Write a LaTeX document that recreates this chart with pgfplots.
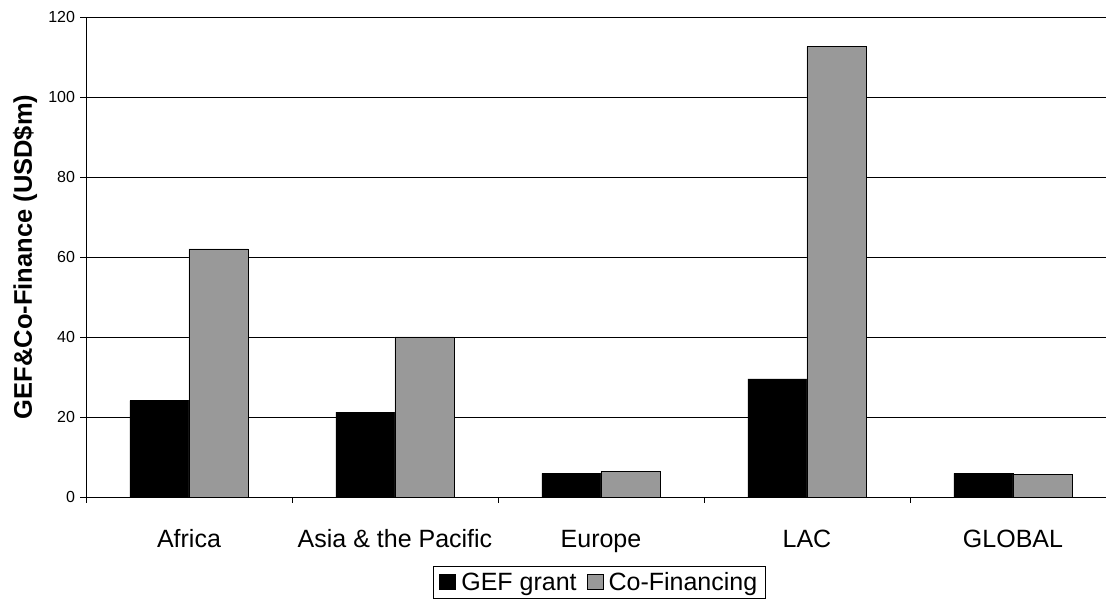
\documentclass[border=0pt]{standalone}
\usepackage{pgfplots}
\pgfplotsset{compat=1.18}
\usepackage{fontspec}
\setmainfont{Liberation Sans}
\definecolor{cofin}{RGB}{153,153,153}
\pgfplotsset{sqleg/.style={legend image code/.code={\draw[##1, draw=black] (0pt,-7.5pt) rectangle (16pt,7.5pt);}}}
\begin{document}
\begin{tikzpicture}[x=1pt,y=1pt]
\path[use as bounding box] (0,0) rectangle (1106,599);
\clip (0,0) rectangle (1106,599);
\begin{axis}[
  at={(86pt,102pt)}, anchor=south west,
  scale only axis, width=1030pt, height=480pt,
  xmin=-0.5, xmax=4.5, ymin=0, ymax=120,
  ytick={0,20,...,120},
  ymajorgrids, major grid style={black, line width=0.9pt},
  axis line style={black, line width=0.9pt},
  xtick={0,...,4},
  xticklabels={Africa, Asia \& the Pacific, Europe, LAC, GLOBAL},
  minor xtick={-0.5,0.5,...,4.5},
  major x tick style={draw=none},
  minor x tick style={black, line width=0.9pt},
  major y tick style={black, line width=0.9pt},
  tick align=outside, major tick length=6pt, minor tick length=6pt,
  xtick pos=left, ytick pos=left,
  /pgf/number format/assume math mode=true,
  yticklabel style={font=\fontsize{16}{16}\selectfont, xshift=-1.5pt},
  xticklabel style={font=\fontsize{25}{25}\selectfont, anchor=base, yshift=-45pt},
  ylabel={GEF\&Co-Finance (USD\$m)},
  ylabel style={font=\bfseries\fontsize{25.5}{25.5}\selectfont, at={(axis description cs:-0.0592,0.5)}, anchor=center},
  ybar=0pt, bar width=59pt,
  legend columns=2,
  legend style={at={(axis description cs:0.3369,-0.14375)}, anchor=north west,
    draw=black, line width=0.9pt, font=\fontsize{25}{25}\selectfont,
    inner xsep=6pt, inner ysep=4pt,
    /tikz/every even column/.append style={column sep=8pt},
    /tikz/every odd column/.append style={column sep=3pt}},
]
\addplot[fill=black, draw=black, line width=0.9pt, sqleg]
  coordinates {(0,24.1) (1,21.2) (2,5.9) (3,29.5) (4,5.9)};
\addplot[fill=cofin, draw=black, line width=0.9pt, sqleg]
  coordinates {(0,62) (1,40) (2,6.3) (3,112.6) (4,5.6)};
\legend{GEF grant, Co-Financing}
\end{axis}
\end{tikzpicture}
\end{document}
